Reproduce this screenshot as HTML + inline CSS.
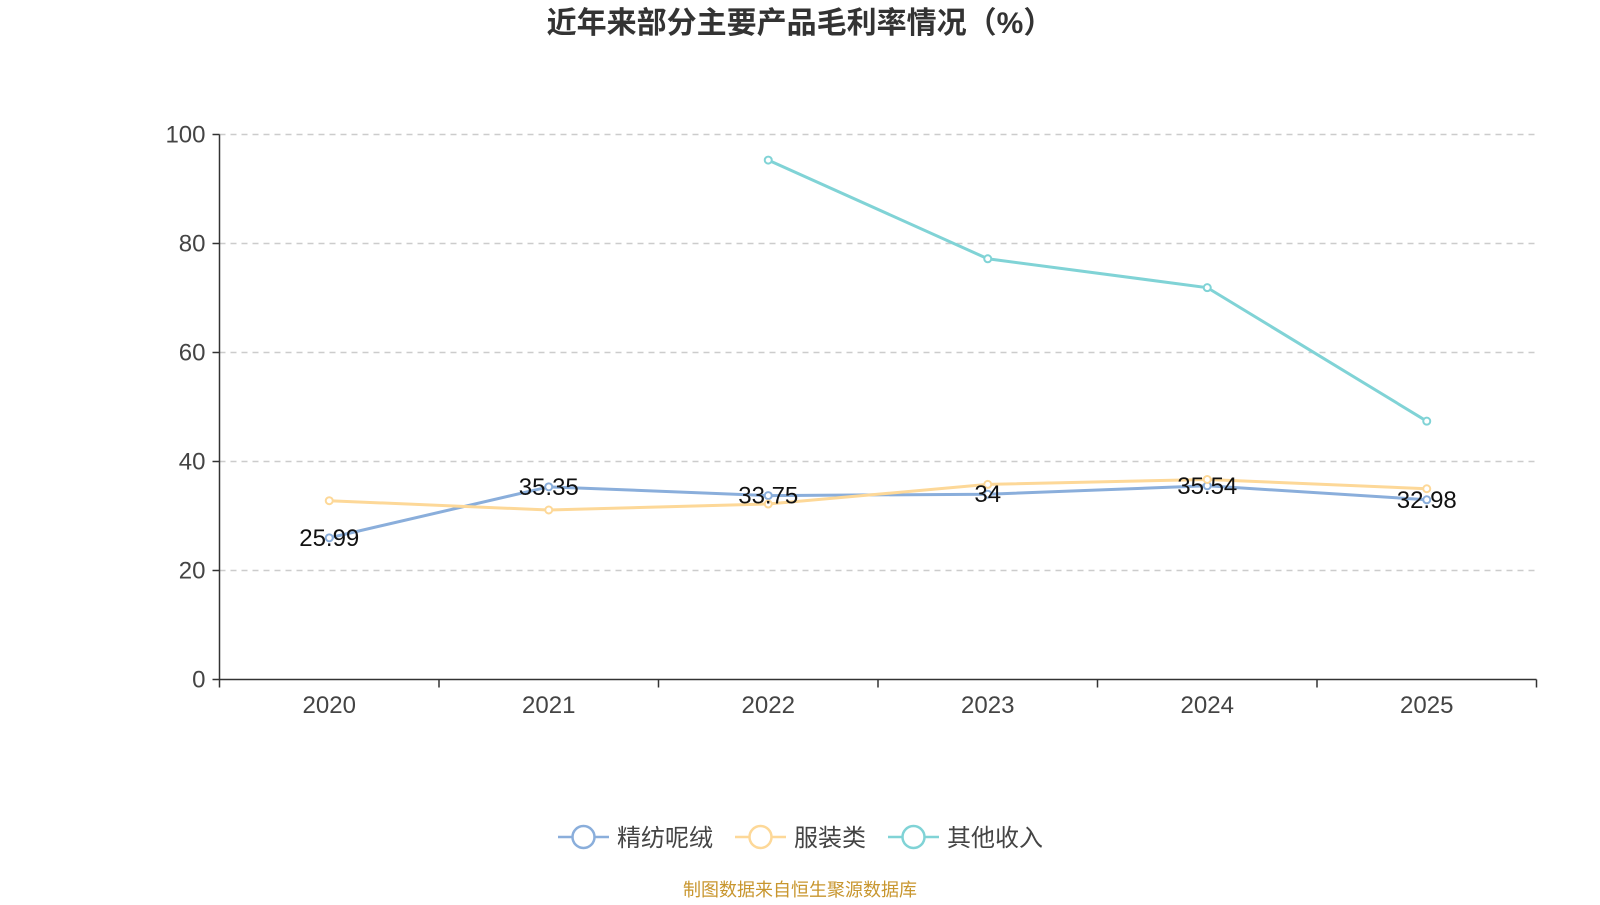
<!DOCTYPE html>
<html><head><meta charset="utf-8">
<style>
body{margin:0;background:#fff;font-family:"Liberation Sans","Noto Sans CJK SC",sans-serif;}
svg text{font-family:"Liberation Sans","Noto Sans CJK SC",sans-serif;}
</style></head>
<body>
<svg id="chart" width="1600" height="900">
<text x="800" y="33" text-anchor="middle" font-size="30" font-weight="bold" fill="#333">近年来部分主要产品毛利率情况（%）</text>
<g id="grid"></g><g id="axes"></g><g id="series"></g><g id="labels"></g>
<g id="legend"></g>
<text x="800" y="896" text-anchor="middle" font-size="18" fill="#c8962e">制图数据来自恒生聚源数据库</text>
</svg>
<script>
const categories=["2020","2021","2022","2023","2024","2025"];
const yTicks=[0,20,40,60,80,100];
const seriesNames=["精纺呢绒","服装类","其他收入"];
const seriesColors=["#8aaedb","#fdd898","#80d3d6"];
const s1=[25.99,35.35,33.75,34,35.54,32.98];
const s2=[32.8,31.1,32.2,35.8,36.7,35.0];
const s3=[null,null,95.3,77.2,71.9,47.4];
const s1Labels=["25.99","35.35","33.75","34","35.54","32.98"];
const allSeries=[s1,s2,s3];
const NS="http://www.w3.org/2000/svg";
const X0=219.5,X1=1536.5,Y0=679.5,Y1=134.5;
const step=(X1-X0)/categories.length;
function xs(i){return X0+step*(i+0.5);}
function ys(v){return Y0-(v/100)*(Y0-Y1);}
function mk(tag,attrs,parent){const e=document.createElementNS(NS,tag);for(const k in attrs)e.setAttribute(k,attrs[k]);parent.appendChild(e);return e;}
const grid=document.getElementById('grid'),axes=document.getElementById('axes'),ser=document.getElementById('series'),lab=document.getElementById('labels'),leg=document.getElementById('legend');
yTicks.forEach(t=>{
  const y=ys(t);
  if(t>0){const l=mk('line',{x1:X0,x2:X1,y1:y,y2:y,stroke:'#ccc','stroke-dasharray':'6,5','stroke-width':1.5},grid);
  
  }
  mk('line',{x1:X0-7,x2:X0,y1:y,y2:y,stroke:'#333','stroke-width':1.5},axes);
  const tx=mk('text',{x:X0-14,y:y+8,'text-anchor':'end','font-size':24,fill:'#444'},axes);tx.textContent=t;
  
  
});
mk('line',{x1:X0,x2:X0,y1:Y1,y2:Y0,stroke:'#333','stroke-width':1.5},axes);
mk('line',{x1:X0,x2:X1,y1:Y0,y2:Y0,stroke:'#333','stroke-width':1.5},axes);
for(let i=0;i<=categories.length;i++){const x=X0+step*i;mk('line',{x1:x,x2:x,y1:Y0,y2:Y0+8,stroke:'#333','stroke-width':1.5},axes);}
categories.forEach((c,i)=>{const t=mk('text',{x:xs(i),y:713,'text-anchor':'middle','font-size':24,fill:'#444'},axes);t.textContent=c;
  
  });
allSeries.forEach((s,k)=>{
  let d='';s.forEach((v,i)=>{if(v==null)return;d+=(d?'L':'M')+xs(i)+','+ys(v);});
  const p=mk('path',{d:d,fill:'none',stroke:seriesColors[k],'stroke-width':3},ser);
  
  
  s.forEach((v,i)=>{if(v==null)return;const c=mk('circle',{cx:xs(i),cy:ys(v),r:3.5,fill:'#fff',stroke:seriesColors[k],'stroke-width':2},ser);
    
    });
});
s1.forEach((v,i)=>{const t=mk('text',{x:xs(i),y:ys(v)+8,'text-anchor':'middle','font-size':24,fill:'#111'},lab);t.textContent=s1Labels[i];
  
  });
const legX=[558,735,888];
seriesNames.forEach((n,k)=>{
  const g=mk('g',{},leg);
  
  
  mk('line',{x1:legX[k],x2:legX[k]+51,y1:837,y2:837,stroke:seriesColors[k],'stroke-width':2.5},g);
  mk('circle',{cx:legX[k]+25.5,cy:837,r:11,fill:'#fff',stroke:seriesColors[k],'stroke-width':2.5},g);
  const t=mk('text',{x:legX[k]+59,y:846,'font-size':24,fill:'#444'},g);t.textContent=n;
});
</script>
</body></html>
